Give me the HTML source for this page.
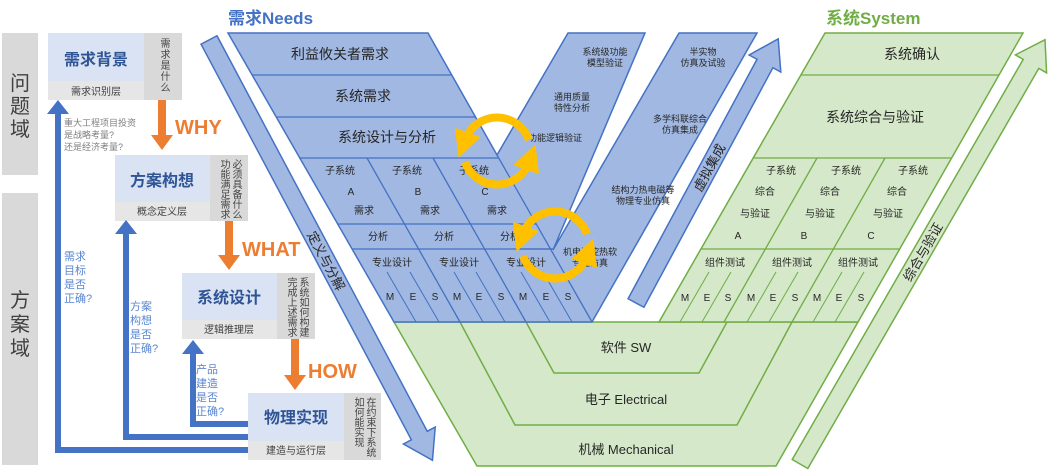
<!DOCTYPE html>
<html><head><meta charset="utf-8"><style>
html,body{margin:0;padding:0;background:#fff;}
body{width:1052px;height:472px;position:relative;overflow:hidden;font-family:"Liberation Sans","Noto Sans CJK SC",sans-serif;}
svg{position:absolute;left:0;top:0;}
.v{position:absolute;writing-mode:vertical-rl;font-size:10px;line-height:12px;color:#444;letter-spacing:0px;}
</style></head><body>
<svg width="1052" height="472" viewBox="0 0 1052 472" font-family="Liberation Sans, Noto Sans CJK SC, sans-serif">
<defs>
<marker id="ya" viewBox="0 0 10 10" refX="3" refY="5" markerWidth="3.4" markerHeight="3.4" orient="auto" markerUnits="strokeWidth"><path d="M0,0 L10,5 L0,10 z" fill="#FFC000"/></marker>
</defs>
<rect x="2" y="33" width="36" height="142" fill="#D9D9D9"/>
<rect x="2" y="193" width="36" height="272" fill="#D9D9D9"/>
<g font-size="20" fill="#404040" text-anchor="middle">
<text x="20" y="90">问</text><text x="20" y="113">题</text><text x="20" y="136">域</text>
<text x="20" y="307">方</text><text x="20" y="331">案</text><text x="20" y="355">域</text>
</g>
<g>
<rect x="48" y="33" width="134" height="67" fill="#E7E6E6"/><rect x="48" y="33" width="96" height="48" fill="#DAE3F3"/><rect x="144" y="33" width="38" height="67" fill="#D9D9D9"/>
<rect x="115" y="155" width="133" height="66" fill="#E7E6E6"/><rect x="115" y="155" width="95" height="47" fill="#DAE3F3"/><rect x="210" y="155" width="38" height="66" fill="#D9D9D9"/>
<rect x="182" y="273" width="133" height="66" fill="#E7E6E6"/><rect x="182" y="273" width="95" height="47" fill="#DAE3F3"/><rect x="277" y="273" width="38" height="66" fill="#D9D9D9"/>
<rect x="248" y="393" width="133" height="67" fill="#E7E6E6"/><rect x="248" y="393" width="96" height="48" fill="#DAE3F3"/><rect x="344" y="393" width="37" height="67" fill="#D9D9D9"/>
</g>
<g font-size="16" font-weight="bold" fill="#2F5597" text-anchor="middle">
<text x="96" y="65">需求背景</text><text x="162" y="186">方案构想</text><text x="229" y="303">系统设计</text><text x="296" y="423">物理实现</text>
</g>
<g font-size="10" fill="#404040" text-anchor="middle">
<text x="96" y="95">需求识别层</text><text x="162" y="215">概念定义层</text><text x="229" y="333">逻辑推理层</text><text x="296" y="454">建造与运行层</text>
</g>
<g fill="#ED7D31">
<polygon points="158,100 166,100 166,135 173,135 162,150 151,135 158,135"/>
<polygon points="225,221 233,221 233,255 240,255 229,270 218,255 225,255"/>
<polygon points="291,339 299,339 299,375 306,375 295,390 284,375 291,375"/>
</g>
<g font-size="20" font-weight="bold" fill="#ED7D31">
<text x="175" y="134">WHY</text><text x="242" y="256">WHAT</text><text x="308" y="378">HOW</text>
</g>
<g fill="none" stroke="#4472C4" stroke-width="6">
<polyline points="248,450 58,450 58,112"/>
<polyline points="248,437 126,437 126,232"/>
<polyline points="248,424 193,424 193,352"/>
</g>
<g fill="#4472C4">
<polygon points="47,114 69,114 58,100"/><polygon points="115,234 137,234 126,220"/><polygon points="182,354 204,354 193,340"/>
</g>
<g font-size="9" fill="#7F7F7F"><text x="64" y="126">重大工程项目投资</text><text x="64" y="138">是战略考量?</text><text x="64" y="150">还是经济考量?</text></g>
<g font-size="11" fill="#5B86D0">
<text x="64" y="260">需求</text><text x="64" y="274">目标</text><text x="64" y="288">是否</text><text x="64" y="302">正确?</text>
<text x="130" y="310">方案</text><text x="130" y="324">构想</text><text x="130" y="338">是否</text><text x="130" y="352">正确?</text>
<text x="196" y="373">产品</text><text x="196" y="387">建造</text><text x="196" y="401">是否</text><text x="196" y="415">正确?</text>
</g>
<text x="228" y="24" font-size="17" font-weight="bold" fill="#4472C4">需求Needs</text>
<text x="826" y="24" font-size="17" font-weight="bold" fill="#70AD47">系统System</text>
<g fill="#D5E8C9" stroke="#70AD47" stroke-width="1.5">
<polygon points="394,322 858,322 776,466 477,466"/>
<polyline fill="none" points="460,322 515,425 737,425 792,322"/>
<polyline fill="none" points="526,322 554,373 699,373 727,322"/>
</g>
<g font-size="13" fill="#262626" text-anchor="middle">
<text x="626" y="352">软件 SW</text><text x="626" y="404">电子 Electrical</text><text x="626" y="454">机械 Mechanical</text>
</g>
<polygon points="228,33 428,33 497,155 568,33 645,33 553,250 679,33 757,33 592,322 394,322" fill="#A1B8E2" stroke="#4472C4" stroke-width="1.5"/>
<g stroke="#4472C4" stroke-width="1.3" fill="none">
<line x1="252" y1="75" x2="452" y2="75"/><line x1="276" y1="117" x2="476" y2="117"/><line x1="299" y1="158" x2="499" y2="158"/>
<line x1="337" y1="224" x2="536" y2="224"/><line x1="352" y1="249" x2="552" y2="249"/>
<line x1="497" y1="155" x2="592" y2="322"/>
<line x1="367" y1="158" x2="460" y2="322"/><line x1="433" y1="158" x2="526" y2="322"/>
<line x1="520" y1="249" x2="553" y2="249"/>
</g>
<g stroke="#4472C4" stroke-width="1" fill="none">
<line x1="387" y1="272" x2="416" y2="322"/><line x1="410" y1="272" x2="439" y2="322"/>
<line x1="454" y1="272" x2="483" y2="322"/><line x1="476" y1="272" x2="505" y2="322"/>
<line x1="521" y1="272" x2="550" y2="322"/><line x1="543" y1="272" x2="572" y2="322"/>
</g>
<g font-size="14" fill="#262626" text-anchor="middle">
<text x="340" y="59">利益攸关者需求</text><text x="363" y="101">系统需求</text><text x="387" y="142">系统设计与分析</text>
</g>
<g font-size="10" fill="#262626" text-anchor="middle">
<text x="340" y="174">子系统</text><text x="351" y="195">A</text><text x="364" y="214">需求</text>
<text x="407" y="174">子系统</text><text x="418" y="195">B</text><text x="430" y="214">需求</text>
<text x="474" y="174">子系统</text><text x="485" y="195">C</text><text x="497" y="214">需求</text>
<text x="378" y="240">分析</text><text x="444" y="240">分析</text><text x="510" y="240">分析</text>
<text x="392" y="266">专业设计</text><text x="459" y="266">专业设计</text><text x="526" y="266">专业设计</text>
<text x="390" y="300">M</text><text x="413" y="300">E</text><text x="435" y="300">S</text>
<text x="457" y="300">M</text><text x="479" y="300">E</text><text x="501" y="300">S</text>
<text x="523" y="300">M</text><text x="546" y="300">E</text><text x="568" y="300">S</text>
</g>
<g font-size="9" fill="#262626" text-anchor="middle">
<text x="605" y="55">系统级功能</text><text x="605" y="66">模型验证</text>
<text x="572" y="100">通用质量</text><text x="572" y="111">特性分析</text>
<text x="555" y="141">功能逻辑验证</text>
<text x="703" y="55">半实物</text><text x="703" y="66">仿真及试验</text>
<text x="680" y="122">多学科联综合</text><text x="680" y="133">仿真集成</text>
<text x="643" y="193">结构力热电磁等</text><text x="643" y="204">物理专业仿真</text>
<text x="590" y="255">机电液控热软</text><text x="590" y="266">专业仿真</text>
</g>
<polygon points="825,33 1023,33 858,322 659,322" fill="#D5E8C9" stroke="#70AD47" stroke-width="1.5"/>
<g stroke="#70AD47" stroke-width="1.3" fill="none">
<line x1="801" y1="75" x2="999" y2="75"/><line x1="753" y1="158" x2="952" y2="158"/><line x1="701" y1="249" x2="900" y2="249"/>
<line x1="817" y1="158" x2="724" y2="322"/><line x1="885" y1="158" x2="792" y2="322"/>
</g>
<g stroke="#70AD47" stroke-width="1" fill="none">
<line x1="709" y1="272" x2="680" y2="322"/><line x1="731" y1="272" x2="702" y2="322"/>
<line x1="776" y1="272" x2="747" y2="322"/><line x1="798" y1="272" x2="769" y2="322"/>
<line x1="842" y1="272" x2="813" y2="322"/><line x1="864" y1="272" x2="835" y2="322"/>
</g>
<g font-size="14" fill="#262626" text-anchor="middle"><text x="912" y="59">系统确认</text><text x="875" y="122">系统综合与验证</text></g>
<g font-size="10" fill="#262626" text-anchor="middle">
<text x="781" y="174">子系统</text><text x="765" y="195">综合</text><text x="755" y="217">与验证</text><text x="738" y="239">A</text>
<text x="846" y="174">子系统</text><text x="830" y="195">综合</text><text x="820" y="217">与验证</text><text x="804" y="239">B</text>
<text x="913" y="174">子系统</text><text x="897" y="195">综合</text><text x="888" y="217">与验证</text><text x="871" y="239">C</text>
<text x="725" y="266">组件测试</text><text x="792" y="266">组件测试</text><text x="858" y="266">组件测试</text>
<text x="685" y="301">M</text><text x="707" y="301">E</text><text x="728" y="301">S</text>
<text x="751" y="301">M</text><text x="773" y="301">E</text><text x="795" y="301">S</text>
<text x="817" y="301">M</text><text x="839" y="301">E</text><text x="861" y="301">S</text>
</g>
<g transform="translate(209,40) rotate(62)">
<polygon points="0,-9 448,-9 448,-18 476,0 448,18 448,9 0,9" fill="#A1B8E2" stroke="#4472C4" stroke-width="1.5"/>
<text x="250" y="5" font-size="13" fill="#262626" text-anchor="middle">定义与分解</text>
</g>
<g transform="translate(636,303) rotate(-61.7)">
<polygon points="0,-9 272,-9 272,-18 300,0 272,18 272,9 0,9" fill="#A1B8E2" stroke="#4472C4" stroke-width="1.5"/>
<text x="154" y="5" font-size="13" fill="#262626" text-anchor="middle">虚拟集成</text>
</g>
<g transform="translate(800,464) rotate(-60)">
<polygon points="0,-9 462,-9 462,-18 490,0 462,18 462,9 0,9" fill="#D5E8C9" stroke="#70AD47" stroke-width="1.5"/>
<text x="245" y="5" font-size="13" fill="#262626" text-anchor="middle">综合与验证</text>
</g>
<g fill="none" stroke="#FFC000" stroke-width="8">
<path d="M529,140 A34,34 0 0 0 465,140" marker-end="url(#ya)"/>
<path d="M465,162 A34,34 0 0 0 529,162" marker-end="url(#ya)"/>
<path d="M587,234 A34,34 0 0 0 523,234" marker-end="url(#ya)"/>
<path d="M523,256 A34,34 0 0 0 587,256" marker-end="url(#ya)"/>
</g>
</svg>
<div class="v" style="left:157px;top:38px;letter-spacing:1px;">需求是什么</div>
<div class="v" style="left:217px;top:159px;">必须具备什么<br>功能满足需求</div>
<div class="v" style="left:284px;top:277px;">系统如何构建<br>完成上述需求</div>
<div class="v" style="left:351px;top:397px;">在约束下系统<br>如何能实现</div>
</body></html>
